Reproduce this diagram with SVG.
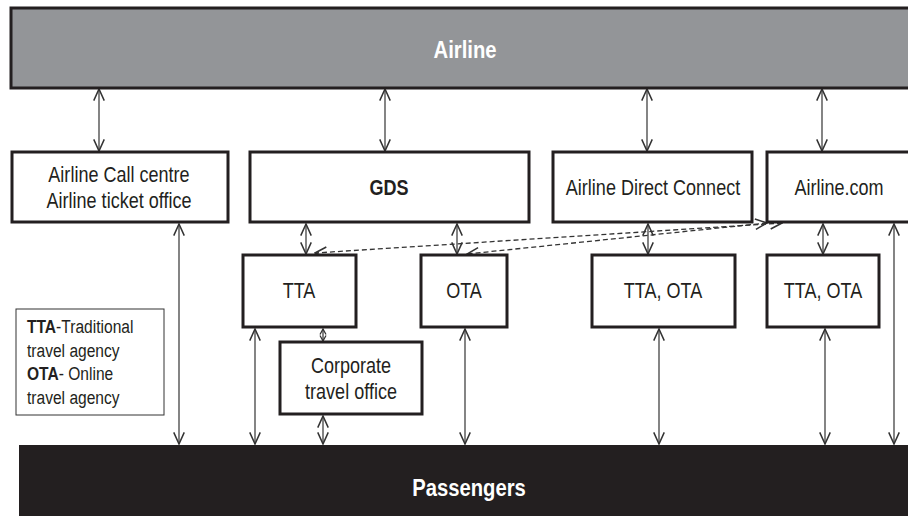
<svg xmlns="http://www.w3.org/2000/svg" width="908" height="523" viewBox="0 0 908 523">
<defs>
<style>
.box{fill:#fff;stroke:#231f20;stroke-width:3}
.lbl{font-family:'Liberation Sans',Arial,sans-serif;font-size:22px;fill:#231f20;text-anchor:middle}
.leg{font-family:'Liberation Sans',Arial,sans-serif;font-size:19px;fill:#231f20}
.big{font-family:'Liberation Sans',Arial,sans-serif;font-size:23px;font-weight:bold;fill:#fff;text-anchor:middle}
.c{stroke:#333;stroke-width:1.2;fill:none;marker-start:url(#ah);marker-end:url(#ah)}
.d{stroke:#333;stroke-width:1.3;fill:none;stroke-dasharray:5 3;marker-start:url(#ah);marker-end:url(#ah)}
.s{stroke:#333;stroke-width:1.2;fill:none;marker-start:url(#sh);marker-end:url(#sh)}
</style>
<marker id="ah" markerUnits="userSpaceOnUse" markerWidth="14" markerHeight="14" refX="11" refY="6" orient="auto-start-reverse" viewBox="0 0 12 12">
<path d="M1,1.5 L11,6 L1,10.5" fill="none" stroke="#333" stroke-width="1.3"/>
</marker>
<marker id="sh" markerUnits="userSpaceOnUse" markerWidth="8" markerHeight="8" refX="6.5" refY="4" orient="auto-start-reverse" viewBox="0 0 8 8">
<path d="M1,1 L6.5,4 L1,7" fill="none" stroke="#333" stroke-width="1.3"/>
</marker>
</defs>
<rect width="908" height="523" fill="#fff"/>
<g id="connectors">
<line class="c" x1="99" y1="89" x2="99" y2="151"/>
<line class="c" x1="385" y1="89" x2="385" y2="151"/>
<line class="c" x1="647" y1="89" x2="647" y2="151"/>
<line class="c" x1="822" y1="89" x2="822" y2="151"/>
<line class="c" x1="179" y1="224" x2="179" y2="444"/>
<line class="c" x1="306" y1="224" x2="306" y2="254"/>
<line class="c" x1="457" y1="224" x2="457" y2="254"/>
<line class="c" x1="648" y1="224" x2="648" y2="254"/>
<line class="c" x1="823" y1="224" x2="823" y2="254"/>
<line class="c" x1="894" y1="224" x2="894" y2="444"/>
<line class="c" x1="255" y1="329" x2="255" y2="444"/>
<line class="s" x1="323" y1="329" x2="323" y2="341"/>
<line class="c" x1="323" y1="416" x2="323" y2="444"/>
<line class="c" x1="465" y1="329" x2="465" y2="444"/>
<line class="c" x1="659" y1="329" x2="659" y2="444"/>
<line class="c" x1="825" y1="329" x2="825" y2="444"/>
<line class="d" x1="782" y1="223" x2="315" y2="253"/>
<line class="d" x1="767" y1="223" x2="467" y2="254"/>
</g>
<g id="airline">
<rect x="11" y="8" width="910" height="80" fill="#939598" stroke="#231f20" stroke-width="3"/>
<text class="big" transform="translate(465 58) scale(0.88 1)">Airline</text>
</g>
<g id="passengers">
<rect x="19" y="445" width="900" height="71" fill="#231f20"/>
<text class="big" transform="translate(469 496) scale(0.88 1)">Passengers</text>
</g>
<g id="callcentre">
<rect class="box" x="12" y="152" width="216" height="70"/>
<text class="lbl" transform="translate(119 182) scale(0.82 1)">Airline Call centre</text>
<text class="lbl" transform="translate(119 208) scale(0.82 1)">Airline ticket office</text>
</g>
<g id="gds">
<rect class="box" x="250" y="152" width="279" height="70"/>
<text class="lbl" font-weight="bold" transform="translate(389 195) scale(0.82 1)">GDS</text>
</g>
<g id="adc">
<rect class="box" x="553" y="152" width="199" height="70"/>
<text class="lbl" transform="translate(653 195) scale(0.82 1)">Airline Direct Connect</text>
</g>
<g id="airlinecom">
<rect class="box" x="767" y="152" width="160" height="70"/>
<text class="lbl" transform="translate(839 195) scale(0.82 1)">Airline.com</text>
</g>
<g id="tta">
<rect class="box" x="243" y="255" width="113" height="72"/>
<text class="lbl" transform="translate(299 298) scale(0.82 1)">TTA</text>
</g>
<g id="ota">
<rect class="box" x="421" y="255" width="86" height="72"/>
<text class="lbl" transform="translate(464 298) scale(0.82 1)">OTA</text>
</g>
<g id="ttaota1">
<rect class="box" x="592" y="255" width="143" height="72"/>
<text class="lbl" transform="translate(663 298) scale(0.82 1)">TTA, OTA</text>
</g>
<g id="ttaota2">
<rect class="box" x="767" y="255" width="112" height="72"/>
<text class="lbl" transform="translate(823 298) scale(0.82 1)">TTA, OTA</text>
</g>
<g id="corporate">
<rect class="box" x="280" y="342" width="142" height="72"/>
<text class="lbl" transform="translate(351 373) scale(0.82 1)">Corporate</text>
<text class="lbl" transform="translate(351 399) scale(0.82 1)">travel office</text>
</g>
<g id="legend">
<rect x="16" y="309" width="148" height="106" fill="#fff" stroke="#333" stroke-width="1"/>
<text class="leg" transform="translate(27 333) scale(0.82 1)"><tspan font-weight="bold">TTA</tspan>-Traditional</text>
<text class="leg" transform="translate(27 357) scale(0.82 1)">travel agency</text>
<text class="leg" transform="translate(27 380) scale(0.82 1)"><tspan font-weight="bold">OTA</tspan>- Online</text>
<text class="leg" transform="translate(27 404) scale(0.82 1)">travel agency</text>
</g>
</svg>
